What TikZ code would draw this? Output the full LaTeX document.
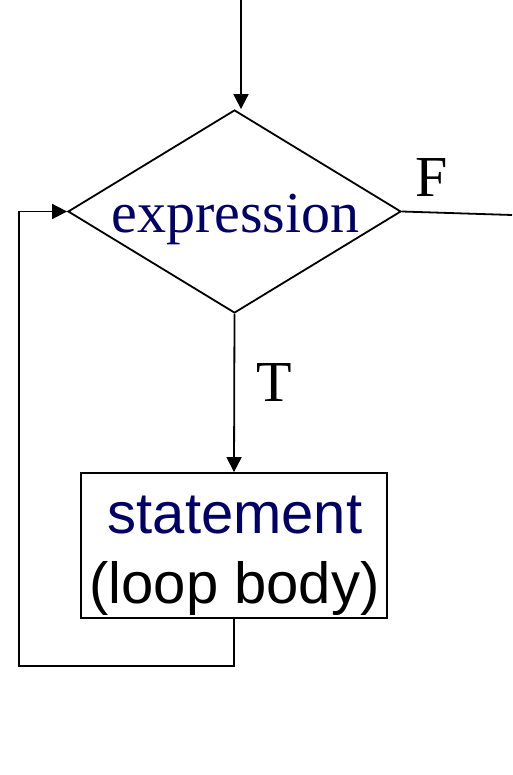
\documentclass[tikz,border=0pt]{standalone}
\usepackage{fontspec}
\setmainfont{Liberation Serif}
\setsansfont{Liberation Sans}
\usetikzlibrary{shapes.geometric,arrows.meta}

\definecolor{loopnavy}{RGB}{0,0,102}
\tikzset{
  flowline/.style={line width=1.8pt},
  flowarrow/.style={flowline,-{Triangle[length=15pt,width=15pt]}},
  decision/.style={diamond,draw,flowline,aspect=1.64,inner sep=0pt,
    minimum width=333pt,minimum height=203pt},
  process/.style={rectangle,draw,flowline,inner sep=0pt,
    minimum width=306pt,minimum height=145pt},
  bigtext/.style={font=\fontsize{58}{70}\selectfont,inner sep=0pt}
}

\begin{document}
\begin{tikzpicture}[x=1pt,y=-1pt]
  \useasboundingbox (0,0) rectangle (512,775);

  \coordinate (entry) at (241,0);
  \coordinate (exit) at (512,215);
  \coordinate (loopcorner) at (19,666);

  \node[decision] (expr) at (234.5,211.5) {};
  \node[bigtext,anchor=base,text=loopnavy] (exprtext) at (235.5,233) {expression};

  \node[process] (body) at (234,545.5) {};
  \node[bigtext,anchor=base,font=\sffamily\fontsize{58}{70}\selectfont,text=loopnavy] (stmt) at (235,533) {statement};
  \node[bigtext,anchor=base,font=\sffamily\fontsize{58}{70}\selectfont] (loopbody) at (234.5,603) {(loop body)};

  \node[bigtext,anchor=base] (flabel) at (432,197) {F};
  \node[bigtext,anchor=base] (tlabel) at (274,401) {T};

  \draw[flowarrow] (entry) -- (entry |- expr.north);
  \draw[flowline] (expr.east) -- (exit);
  \draw[flowarrow] (expr.south) -- (body.north);
  \draw[flowarrow] (body.south) |- (loopcorner) |- (expr.west);
\end{tikzpicture}
\end{document}
